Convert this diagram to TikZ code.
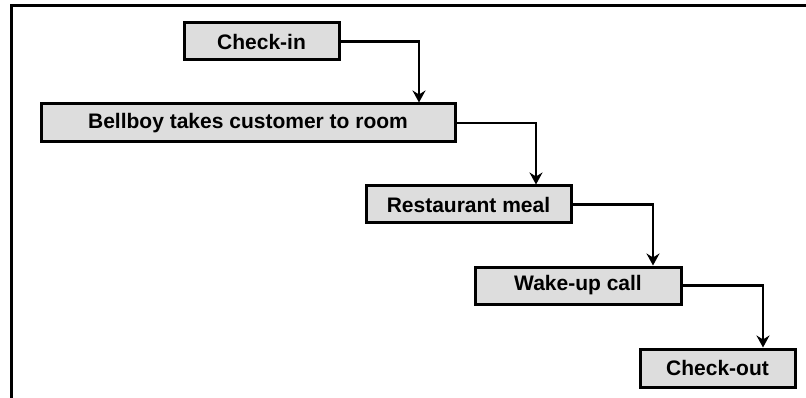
\documentclass[tikz,border=0pt]{standalone}
\usepackage{fontspec}
\setmainfont{Liberation Sans}
\usetikzlibrary{arrows.meta}
\definecolor{boxgray}{RGB}{221,221,221}
\begin{document}
\begin{tikzpicture}[x=1pt,y=-1pt,
  stagebox/.style={draw=black,line width=3pt,fill=boxgray,inner sep=0pt,
    font=\fontsize{21}{24}\selectfont\bfseries},
  flow/.style={line width=2.7pt,-{Stealth[length=12pt,width=13pt,inset=4pt]}}]
\useasboundingbox (0,0) rectangle (806,398);
\fill[white] (0,0) rectangle (806,398);
\coordinate (ftl) at (11,6);
\coordinate (ftr) at (806,6);
\coordinate (fbl) at (11,398);
\draw[line width=3pt] (fbl) -- (ftl) -- (ftr);
\node[stagebox,minimum width=155pt,minimum height=37pt] (ci) at (261.5,41.5) {Check-in};
\node[stagebox,minimum width=414pt,minimum height=38pt] (bb) at (248,123) {Bellboy takes customer to room};
\node[stagebox,minimum width=205pt,minimum height=37pt] (rm) at (468.5,204.5) {Restaurant meal};
\node[stagebox,minimum width=206pt,minimum height=37pt] (wu) at (578,285.5) {Wake-up call};
\node[stagebox,minimum width=155pt,minimum height=38pt] (co) at (717.5,368) {Check-out};
\draw[flow] (ci.east) -| (419,0 |- bb.north);
\draw[flow] (bb.east) -| (536,0 |- rm.north);
\draw[flow] (rm.east) -| (653,0 |- wu.north);
\draw[flow] (wu.east) -| (763,0 |- co.north);
\end{tikzpicture}
\end{document}
